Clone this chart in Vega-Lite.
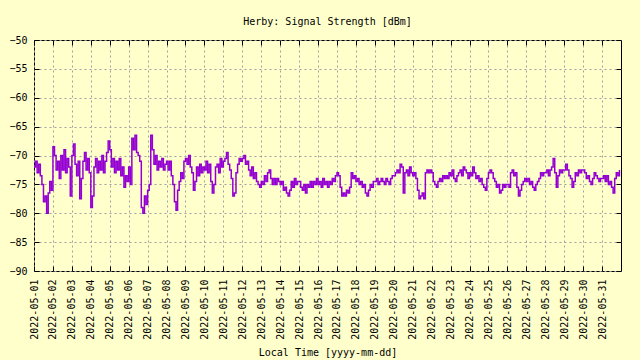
{
  "$schema": "https://vega.github.io/schema/vega-lite/v6.json",
  "width": 587,
  "height": 231,
  "autosize": {"type": "none"},
  "padding": {"left": 34, "top": 40, "right": 19, "bottom": 89},
  "background": "#ffffcc",
  "title": {"text": "Herby: Signal Strength [dBm]", "font": "DejaVu Sans Mono", "fontSize": 10, "fontWeight": "normal", "color": "black", "baseline": "alphabetic", "offset": 0, "anchor": "middle"},
  "config": {"view": {"stroke": "black", "strokeWidth": 1}},
  "data": {"values": [
{"t":"2022-05-01T00:00:00Z","v":-72},{"t":"2022-05-01T02:00:00Z","v":-71},{"t":"2022-05-01T04:00:00Z","v":-73},{"t":"2022-05-01T06:00:00Z","v":-71.5},{"t":"2022-05-01T08:00:00Z","v":-73.5},{"t":"2022-05-01T10:00:00Z","v":-75},{"t":"2022-05-01T12:00:00Z","v":-78},{"t":"2022-05-01T14:00:00Z","v":-77},{"t":"2022-05-01T16:00:00Z","v":-80},{"t":"2022-05-01T18:00:00Z","v":-76.5},{"t":"2022-05-01T20:00:00Z","v":-74.5},{"t":"2022-05-01T22:00:00Z","v":-76},
{"t":"2022-05-02T00:00:00Z","v":-68.5},{"t":"2022-05-02T02:00:00Z","v":-70},{"t":"2022-05-02T04:00:00Z","v":-72.5},{"t":"2022-05-02T06:00:00Z","v":-71},{"t":"2022-05-02T08:00:00Z","v":-74},{"t":"2022-05-02T10:00:00Z","v":-70},{"t":"2022-05-02T12:00:00Z","v":-72.5},{"t":"2022-05-02T14:00:00Z","v":-69},{"t":"2022-05-02T16:00:00Z","v":-73},{"t":"2022-05-02T18:00:00Z","v":-70.5},{"t":"2022-05-02T20:00:00Z","v":-72},{"t":"2022-05-02T22:00:00Z","v":-77},
{"t":"2022-05-03T00:00:00Z","v":-70},{"t":"2022-05-03T02:00:00Z","v":-68},{"t":"2022-05-03T04:00:00Z","v":-71.5},{"t":"2022-05-03T06:00:00Z","v":-73.5},{"t":"2022-05-03T08:00:00Z","v":-71},{"t":"2022-05-03T10:00:00Z","v":-77.5},{"t":"2022-05-03T12:00:00Z","v":-74},{"t":"2022-05-03T14:00:00Z","v":-71},{"t":"2022-05-03T16:00:00Z","v":-69.5},{"t":"2022-05-03T18:00:00Z","v":-72.5},{"t":"2022-05-03T20:00:00Z","v":-70.5},{"t":"2022-05-03T22:00:00Z","v":-73},
{"t":"2022-05-04T00:00:00Z","v":-79},{"t":"2022-05-04T02:00:00Z","v":-77},{"t":"2022-05-04T04:00:00Z","v":-72},{"t":"2022-05-04T06:00:00Z","v":-70.5},{"t":"2022-05-04T08:00:00Z","v":-73},{"t":"2022-05-04T10:00:00Z","v":-71},{"t":"2022-05-04T12:00:00Z","v":-72.5},{"t":"2022-05-04T14:00:00Z","v":-70},{"t":"2022-05-04T16:00:00Z","v":-73},{"t":"2022-05-04T18:00:00Z","v":-71},{"t":"2022-05-04T20:00:00Z","v":-69.5},{"t":"2022-05-04T22:00:00Z","v":-67.5},
{"t":"2022-05-05T00:00:00Z","v":-69},{"t":"2022-05-05T02:00:00Z","v":-72},{"t":"2022-05-05T04:00:00Z","v":-70.5},{"t":"2022-05-05T06:00:00Z","v":-73},{"t":"2022-05-05T08:00:00Z","v":-71},{"t":"2022-05-05T10:00:00Z","v":-72.5},{"t":"2022-05-05T12:00:00Z","v":-70.5},{"t":"2022-05-05T14:00:00Z","v":-73.5},{"t":"2022-05-05T16:00:00Z","v":-72},{"t":"2022-05-05T18:00:00Z","v":-75.5},{"t":"2022-05-05T20:00:00Z","v":-73.5},{"t":"2022-05-05T22:00:00Z","v":-74.5},
{"t":"2022-05-06T00:00:00Z","v":-72},{"t":"2022-05-06T02:00:00Z","v":-75},{"t":"2022-05-06T04:00:00Z","v":-67},{"t":"2022-05-06T06:00:00Z","v":-69},{"t":"2022-05-06T08:00:00Z","v":-66.5},{"t":"2022-05-06T10:00:00Z","v":-69.5},{"t":"2022-05-06T12:00:00Z","v":-70},{"t":"2022-05-06T14:00:00Z","v":-71},{"t":"2022-05-06T16:00:00Z","v":-79},{"t":"2022-05-06T18:00:00Z","v":-80},{"t":"2022-05-06T20:00:00Z","v":-77},{"t":"2022-05-06T22:00:00Z","v":-78.5},
{"t":"2022-05-07T00:00:00Z","v":-76},{"t":"2022-05-07T02:00:00Z","v":-75},{"t":"2022-05-07T04:00:00Z","v":-66.5},{"t":"2022-05-07T06:00:00Z","v":-69},{"t":"2022-05-07T08:00:00Z","v":-71.5},{"t":"2022-05-07T10:00:00Z","v":-70},{"t":"2022-05-07T12:00:00Z","v":-72.5},{"t":"2022-05-07T14:00:00Z","v":-71},{"t":"2022-05-07T16:00:00Z","v":-72},{"t":"2022-05-07T18:00:00Z","v":-70.5},{"t":"2022-05-07T20:00:00Z","v":-72.5},{"t":"2022-05-07T22:00:00Z","v":-71.5},
{"t":"2022-05-08T00:00:00Z","v":-71},{"t":"2022-05-08T02:00:00Z","v":-72.5},{"t":"2022-05-08T04:00:00Z","v":-71},{"t":"2022-05-08T06:00:00Z","v":-73.5},{"t":"2022-05-08T08:00:00Z","v":-75},{"t":"2022-05-08T10:00:00Z","v":-78},{"t":"2022-05-08T12:00:00Z","v":-79.5},{"t":"2022-05-08T14:00:00Z","v":-76},{"t":"2022-05-08T16:00:00Z","v":-74.5},{"t":"2022-05-08T18:00:00Z","v":-73},{"t":"2022-05-08T20:00:00Z","v":-74},{"t":"2022-05-08T22:00:00Z","v":-71},
{"t":"2022-05-09T00:00:00Z","v":-70.5},{"t":"2022-05-09T02:00:00Z","v":-71.5},{"t":"2022-05-09T04:00:00Z","v":-70},{"t":"2022-05-09T06:00:00Z","v":-72},{"t":"2022-05-09T08:00:00Z","v":-73},{"t":"2022-05-09T10:00:00Z","v":-76},{"t":"2022-05-09T12:00:00Z","v":-74.5},{"t":"2022-05-09T14:00:00Z","v":-72},{"t":"2022-05-09T16:00:00Z","v":-73.5},{"t":"2022-05-09T18:00:00Z","v":-71.5},{"t":"2022-05-09T20:00:00Z","v":-73},{"t":"2022-05-09T22:00:00Z","v":-72},
{"t":"2022-05-10T00:00:00Z","v":-72.5},{"t":"2022-05-10T02:00:00Z","v":-71},{"t":"2022-05-10T04:00:00Z","v":-73},{"t":"2022-05-10T06:00:00Z","v":-71.5},{"t":"2022-05-10T08:00:00Z","v":-74.5},{"t":"2022-05-10T10:00:00Z","v":-76.5},{"t":"2022-05-10T12:00:00Z","v":-75},{"t":"2022-05-10T14:00:00Z","v":-72},{"t":"2022-05-10T16:00:00Z","v":-71.5},{"t":"2022-05-10T18:00:00Z","v":-73},{"t":"2022-05-10T20:00:00Z","v":-70.5},{"t":"2022-05-10T22:00:00Z","v":-72},
{"t":"2022-05-11T00:00:00Z","v":-71},{"t":"2022-05-11T02:00:00Z","v":-70.5},{"t":"2022-05-11T04:00:00Z","v":-69.5},{"t":"2022-05-11T06:00:00Z","v":-71.5},{"t":"2022-05-11T08:00:00Z","v":-72.5},{"t":"2022-05-11T10:00:00Z","v":-74},{"t":"2022-05-11T12:00:00Z","v":-77},{"t":"2022-05-11T14:00:00Z","v":-76.5},{"t":"2022-05-11T16:00:00Z","v":-73},{"t":"2022-05-11T18:00:00Z","v":-71.5},{"t":"2022-05-11T20:00:00Z","v":-70.5},{"t":"2022-05-11T22:00:00Z","v":-71},
{"t":"2022-05-12T00:00:00Z","v":-70.5},{"t":"2022-05-12T02:00:00Z","v":-70},{"t":"2022-05-12T04:00:00Z","v":-71.5},{"t":"2022-05-12T06:00:00Z","v":-71},{"t":"2022-05-12T08:00:00Z","v":-72.5},{"t":"2022-05-12T10:00:00Z","v":-73.5},{"t":"2022-05-12T12:00:00Z","v":-72},{"t":"2022-05-12T14:00:00Z","v":-74},{"t":"2022-05-12T16:00:00Z","v":-73},{"t":"2022-05-12T18:00:00Z","v":-74.5},{"t":"2022-05-12T20:00:00Z","v":-75},{"t":"2022-05-12T22:00:00Z","v":-75.5},
{"t":"2022-05-13T00:00:00Z","v":-74.5},{"t":"2022-05-13T02:00:00Z","v":-75},{"t":"2022-05-13T04:00:00Z","v":-73.5},{"t":"2022-05-13T06:00:00Z","v":-74.5},{"t":"2022-05-13T08:00:00Z","v":-73},{"t":"2022-05-13T10:00:00Z","v":-72.5},{"t":"2022-05-13T12:00:00Z","v":-74},{"t":"2022-05-13T14:00:00Z","v":-75},{"t":"2022-05-13T16:00:00Z","v":-74},{"t":"2022-05-13T18:00:00Z","v":-75},{"t":"2022-05-13T20:00:00Z","v":-74},{"t":"2022-05-13T22:00:00Z","v":-74.5},
{"t":"2022-05-14T00:00:00Z","v":-75},{"t":"2022-05-14T02:00:00Z","v":-74.5},{"t":"2022-05-14T04:00:00Z","v":-76},{"t":"2022-05-14T06:00:00Z","v":-75.5},{"t":"2022-05-14T08:00:00Z","v":-76.5},{"t":"2022-05-14T10:00:00Z","v":-77},{"t":"2022-05-14T12:00:00Z","v":-76},{"t":"2022-05-14T14:00:00Z","v":-74.5},{"t":"2022-05-14T16:00:00Z","v":-75.5},{"t":"2022-05-14T18:00:00Z","v":-74},{"t":"2022-05-14T20:00:00Z","v":-75},{"t":"2022-05-14T22:00:00Z","v":-74.5},
{"t":"2022-05-15T00:00:00Z","v":-74.5},{"t":"2022-05-15T02:00:00Z","v":-75.5},{"t":"2022-05-15T04:00:00Z","v":-76},{"t":"2022-05-15T06:00:00Z","v":-75},{"t":"2022-05-15T08:00:00Z","v":-76.5},{"t":"2022-05-15T10:00:00Z","v":-75},{"t":"2022-05-15T12:00:00Z","v":-75.5},{"t":"2022-05-15T14:00:00Z","v":-74.5},{"t":"2022-05-15T16:00:00Z","v":-75.5},{"t":"2022-05-15T18:00:00Z","v":-74.5},{"t":"2022-05-15T20:00:00Z","v":-75},{"t":"2022-05-15T22:00:00Z","v":-74},
{"t":"2022-05-16T00:00:00Z","v":-75},{"t":"2022-05-16T02:00:00Z","v":-74.5},{"t":"2022-05-16T04:00:00Z","v":-75.5},{"t":"2022-05-16T06:00:00Z","v":-74},{"t":"2022-05-16T08:00:00Z","v":-75},{"t":"2022-05-16T10:00:00Z","v":-74.5},{"t":"2022-05-16T12:00:00Z","v":-75.5},{"t":"2022-05-16T14:00:00Z","v":-74.5},{"t":"2022-05-16T16:00:00Z","v":-75},{"t":"2022-05-16T18:00:00Z","v":-74},{"t":"2022-05-16T20:00:00Z","v":-74.5},{"t":"2022-05-16T22:00:00Z","v":-73.5},
{"t":"2022-05-17T00:00:00Z","v":-73},{"t":"2022-05-17T02:00:00Z","v":-73.5},{"t":"2022-05-17T04:00:00Z","v":-75.5},{"t":"2022-05-17T06:00:00Z","v":-77},{"t":"2022-05-17T08:00:00Z","v":-76.5},{"t":"2022-05-17T10:00:00Z","v":-77},{"t":"2022-05-17T12:00:00Z","v":-76},{"t":"2022-05-17T14:00:00Z","v":-76.5},{"t":"2022-05-17T16:00:00Z","v":-75.5},{"t":"2022-05-17T18:00:00Z","v":-73},{"t":"2022-05-17T20:00:00Z","v":-74},{"t":"2022-05-17T22:00:00Z","v":-73.5},
{"t":"2022-05-18T00:00:00Z","v":-74.5},{"t":"2022-05-18T02:00:00Z","v":-74},{"t":"2022-05-18T04:00:00Z","v":-75},{"t":"2022-05-18T06:00:00Z","v":-74.5},{"t":"2022-05-18T08:00:00Z","v":-75.5},{"t":"2022-05-18T10:00:00Z","v":-75},{"t":"2022-05-18T12:00:00Z","v":-76.5},{"t":"2022-05-18T14:00:00Z","v":-77},{"t":"2022-05-18T16:00:00Z","v":-76},{"t":"2022-05-18T18:00:00Z","v":-75},{"t":"2022-05-18T20:00:00Z","v":-75.5},{"t":"2022-05-18T22:00:00Z","v":-74.5},
{"t":"2022-05-19T00:00:00Z","v":-74.5},{"t":"2022-05-19T02:00:00Z","v":-74},{"t":"2022-05-19T04:00:00Z","v":-75},{"t":"2022-05-19T06:00:00Z","v":-74.5},{"t":"2022-05-19T08:00:00Z","v":-74},{"t":"2022-05-19T10:00:00Z","v":-74.5},{"t":"2022-05-19T12:00:00Z","v":-75},{"t":"2022-05-19T14:00:00Z","v":-74},{"t":"2022-05-19T16:00:00Z","v":-74.5},{"t":"2022-05-19T18:00:00Z","v":-75},{"t":"2022-05-19T20:00:00Z","v":-74},{"t":"2022-05-19T22:00:00Z","v":-73.5},
{"t":"2022-05-20T00:00:00Z","v":-73.5},{"t":"2022-05-20T02:00:00Z","v":-73},{"t":"2022-05-20T04:00:00Z","v":-72.5},{"t":"2022-05-20T06:00:00Z","v":-73},{"t":"2022-05-20T08:00:00Z","v":-71.5},{"t":"2022-05-20T10:00:00Z","v":-72},{"t":"2022-05-20T12:00:00Z","v":-76.5},{"t":"2022-05-20T14:00:00Z","v":-73},{"t":"2022-05-20T16:00:00Z","v":-72.5},{"t":"2022-05-20T18:00:00Z","v":-73.5},{"t":"2022-05-20T20:00:00Z","v":-72},{"t":"2022-05-20T22:00:00Z","v":-73},
{"t":"2022-05-21T00:00:00Z","v":-73.5},{"t":"2022-05-21T02:00:00Z","v":-73},{"t":"2022-05-21T04:00:00Z","v":-74},{"t":"2022-05-21T06:00:00Z","v":-76},{"t":"2022-05-21T08:00:00Z","v":-77.5},{"t":"2022-05-21T10:00:00Z","v":-77},{"t":"2022-05-21T12:00:00Z","v":-76.5},{"t":"2022-05-21T14:00:00Z","v":-77.5},{"t":"2022-05-21T16:00:00Z","v":-73},{"t":"2022-05-21T18:00:00Z","v":-72.5},{"t":"2022-05-21T20:00:00Z","v":-73},{"t":"2022-05-21T22:00:00Z","v":-72.5},
{"t":"2022-05-22T00:00:00Z","v":-73},{"t":"2022-05-22T02:00:00Z","v":-74.5},{"t":"2022-05-22T04:00:00Z","v":-75},{"t":"2022-05-22T06:00:00Z","v":-75.5},{"t":"2022-05-22T08:00:00Z","v":-74.5},{"t":"2022-05-22T10:00:00Z","v":-74},{"t":"2022-05-22T12:00:00Z","v":-74.5},{"t":"2022-05-22T14:00:00Z","v":-73.5},{"t":"2022-05-22T16:00:00Z","v":-74},{"t":"2022-05-22T18:00:00Z","v":-73.5},{"t":"2022-05-22T20:00:00Z","v":-74},{"t":"2022-05-22T22:00:00Z","v":-73},
{"t":"2022-05-23T00:00:00Z","v":-73.5},{"t":"2022-05-23T02:00:00Z","v":-72.5},{"t":"2022-05-23T04:00:00Z","v":-74},{"t":"2022-05-23T06:00:00Z","v":-74.5},{"t":"2022-05-23T08:00:00Z","v":-73.5},{"t":"2022-05-23T10:00:00Z","v":-73},{"t":"2022-05-23T12:00:00Z","v":-72.5},{"t":"2022-05-23T14:00:00Z","v":-73.5},{"t":"2022-05-23T16:00:00Z","v":-72},{"t":"2022-05-23T18:00:00Z","v":-72.5},{"t":"2022-05-23T20:00:00Z","v":-73},{"t":"2022-05-23T22:00:00Z","v":-74},
{"t":"2022-05-24T00:00:00Z","v":-73},{"t":"2022-05-24T02:00:00Z","v":-73.5},{"t":"2022-05-24T04:00:00Z","v":-72},{"t":"2022-05-24T06:00:00Z","v":-73},{"t":"2022-05-24T08:00:00Z","v":-74},{"t":"2022-05-24T10:00:00Z","v":-73.5},{"t":"2022-05-24T12:00:00Z","v":-74.5},{"t":"2022-05-24T14:00:00Z","v":-74},{"t":"2022-05-24T16:00:00Z","v":-75},{"t":"2022-05-24T18:00:00Z","v":-75.5},{"t":"2022-05-24T20:00:00Z","v":-76},{"t":"2022-05-24T22:00:00Z","v":-74},
{"t":"2022-05-25T00:00:00Z","v":-73},{"t":"2022-05-25T02:00:00Z","v":-72.5},{"t":"2022-05-25T04:00:00Z","v":-73},{"t":"2022-05-25T06:00:00Z","v":-74},{"t":"2022-05-25T08:00:00Z","v":-74.5},{"t":"2022-05-25T10:00:00Z","v":-75.5},{"t":"2022-05-25T12:00:00Z","v":-75},{"t":"2022-05-25T14:00:00Z","v":-76.5},{"t":"2022-05-25T16:00:00Z","v":-76},{"t":"2022-05-25T18:00:00Z","v":-75},{"t":"2022-05-25T20:00:00Z","v":-75.5},{"t":"2022-05-25T22:00:00Z","v":-75},
{"t":"2022-05-26T00:00:00Z","v":-75},{"t":"2022-05-26T02:00:00Z","v":-75.5},{"t":"2022-05-26T04:00:00Z","v":-73},{"t":"2022-05-26T06:00:00Z","v":-72.5},{"t":"2022-05-26T08:00:00Z","v":-73.5},{"t":"2022-05-26T10:00:00Z","v":-73},{"t":"2022-05-26T12:00:00Z","v":-75.5},{"t":"2022-05-26T14:00:00Z","v":-77},{"t":"2022-05-26T16:00:00Z","v":-76},{"t":"2022-05-26T18:00:00Z","v":-75},{"t":"2022-05-26T20:00:00Z","v":-74.5},{"t":"2022-05-26T22:00:00Z","v":-74},
{"t":"2022-05-27T00:00:00Z","v":-74.5},{"t":"2022-05-27T02:00:00Z","v":-74},{"t":"2022-05-27T04:00:00Z","v":-75},{"t":"2022-05-27T06:00:00Z","v":-74.5},{"t":"2022-05-27T08:00:00Z","v":-75.5},{"t":"2022-05-27T10:00:00Z","v":-76},{"t":"2022-05-27T12:00:00Z","v":-75},{"t":"2022-05-27T14:00:00Z","v":-74.5},{"t":"2022-05-27T16:00:00Z","v":-74},{"t":"2022-05-27T18:00:00Z","v":-73},{"t":"2022-05-27T20:00:00Z","v":-73.5},{"t":"2022-05-27T22:00:00Z","v":-73},
{"t":"2022-05-28T00:00:00Z","v":-73},{"t":"2022-05-28T02:00:00Z","v":-72.5},{"t":"2022-05-28T04:00:00Z","v":-73.5},{"t":"2022-05-28T06:00:00Z","v":-72.5},{"t":"2022-05-28T08:00:00Z","v":-72},{"t":"2022-05-28T10:00:00Z","v":-70.5},{"t":"2022-05-28T12:00:00Z","v":-73},{"t":"2022-05-28T14:00:00Z","v":-75.5},{"t":"2022-05-28T16:00:00Z","v":-73.5},{"t":"2022-05-28T18:00:00Z","v":-72.5},{"t":"2022-05-28T20:00:00Z","v":-73},{"t":"2022-05-28T22:00:00Z","v":-72.5},
{"t":"2022-05-29T00:00:00Z","v":-72.5},{"t":"2022-05-29T02:00:00Z","v":-71.5},{"t":"2022-05-29T04:00:00Z","v":-72.5},{"t":"2022-05-29T06:00:00Z","v":-73.5},{"t":"2022-05-29T08:00:00Z","v":-74},{"t":"2022-05-29T10:00:00Z","v":-75.5},{"t":"2022-05-29T12:00:00Z","v":-74.5},{"t":"2022-05-29T14:00:00Z","v":-73},{"t":"2022-05-29T16:00:00Z","v":-73.5},{"t":"2022-05-29T18:00:00Z","v":-72.5},{"t":"2022-05-29T20:00:00Z","v":-73},{"t":"2022-05-29T22:00:00Z","v":-72.5},
{"t":"2022-05-30T00:00:00Z","v":-72.5},{"t":"2022-05-30T02:00:00Z","v":-73},{"t":"2022-05-30T04:00:00Z","v":-74},{"t":"2022-05-30T06:00:00Z","v":-73.5},{"t":"2022-05-30T08:00:00Z","v":-74.5},{"t":"2022-05-30T10:00:00Z","v":-75},{"t":"2022-05-30T12:00:00Z","v":-74},{"t":"2022-05-30T14:00:00Z","v":-73},{"t":"2022-05-30T16:00:00Z","v":-73.5},{"t":"2022-05-30T18:00:00Z","v":-74},{"t":"2022-05-30T20:00:00Z","v":-74.5},{"t":"2022-05-30T22:00:00Z","v":-74},
{"t":"2022-05-31T00:00:00Z","v":-74},{"t":"2022-05-31T02:00:00Z","v":-73.5},{"t":"2022-05-31T04:00:00Z","v":-74.5},{"t":"2022-05-31T06:00:00Z","v":-73.5},{"t":"2022-05-31T08:00:00Z","v":-75},{"t":"2022-05-31T10:00:00Z","v":-74.5},{"t":"2022-05-31T12:00:00Z","v":-75.5},{"t":"2022-05-31T14:00:00Z","v":-76.5},{"t":"2022-05-31T16:00:00Z","v":-74},{"t":"2022-05-31T18:00:00Z","v":-73},{"t":"2022-05-31T20:00:00Z","v":-73.5},{"t":"2022-05-31T22:00:00Z","v":-72.5}
  ]},
  "layer": [
    {
      "mark": {"type": "line", "color": "#9400d3", "strokeWidth": 1.5, "interpolate": "step-after"},
      "encoding": {
        "x": {"field": "t", "type": "temporal",
          "scale": {"type": "utc", "domain": ["2022-05-01T00:00:00Z", "2022-05-31T23:59:00Z"], "nice": false},
          "axis": {"orient": "bottom", "format": "%Y-%m-%d", "tickCount": {"interval": "day", "step": 1}, "labelAngle": 270,
            "labelFont": "DejaVu Sans Mono", "labelFontSize": 10, "labelColor": "black", "labelPadding": 13, "labelOverlap": false, "labelFlush": false, "labelBound": false,
            "title": "Local Time [yyyy-mm-dd]", "titleFont": "DejaVu Sans Mono", "titleFontSize": 10, "titleFontWeight": "normal", "titleColor": "black", "titleBaseline": "alphabetic", "titleY": 84,
            "grid": true, "gridColor": "#a0a0a0", "gridDash": [2, 3], "gridWidth": 1, "domain": false, "tickColor": "black", "tickSize": -5}},
        "y": {"field": "v", "type": "quantitative",
          "scale": {"domain": [-90, -50], "nice": false, "zero": false},
          "axis": {"orient": "left", "values": [-90, -85, -80, -75, -70, -65, -60, -55, -50], "title": null,
            "labelFont": "DejaVu Sans Mono", "labelFontSize": 10, "labelColor": "black", "labelPadding": 12, "labelFlush": false, "labelBound": false,
            "grid": true, "gridColor": "#a0a0a0", "gridDash": [2, 3], "gridWidth": 1, "domain": false, "tickColor": "black", "tickSize": -5}}
      }
    },
    {
      "mark": {"type": "line", "opacity": 0},
      "encoding": {
        "x": {"field": "t", "type": "temporal",
          "axis": {"orient": "top", "tickCount": {"interval": "day", "step": 1}, "labels": false, "title": null, "grid": false, "domain": false, "tickColor": "black", "tickSize": -5}},
        "y": {"field": "v", "type": "quantitative",
          "axis": {"orient": "right", "values": [-90, -85, -80, -75, -70, -65, -60, -55, -50], "labels": false, "title": null, "grid": false, "domain": false, "tickColor": "black", "tickSize": -5}}
      }
    }
  ],
  "resolve": {"axis": {"x": "independent", "y": "independent"}}
}
